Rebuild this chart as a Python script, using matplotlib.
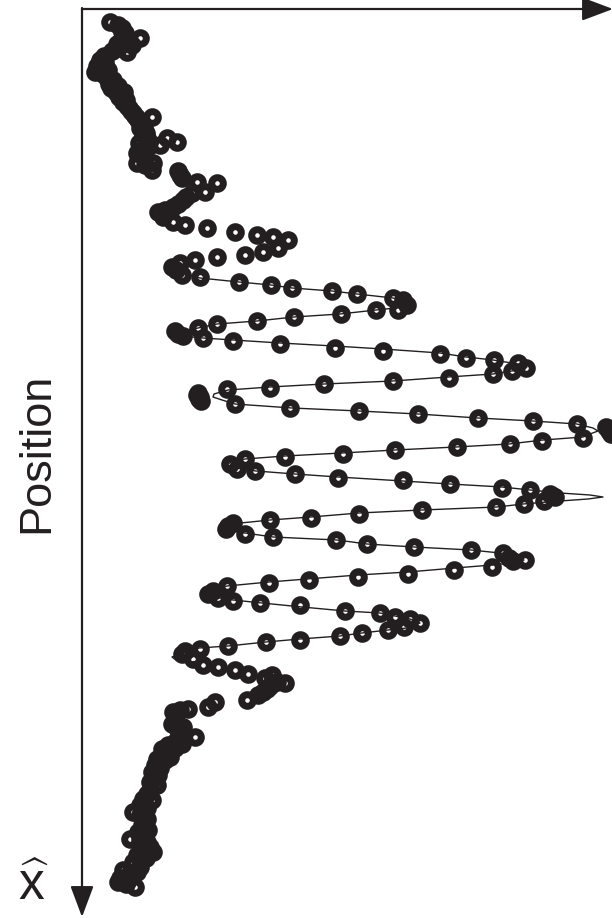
import matplotlib.pyplot as plt

plt.rcParams['font.family'] = ['Liberation Sans', 'DejaVu Sans']
plt.rcParams['mathtext.fontset'] = 'custom'
plt.rcParams['mathtext.sf'] = 'Liberation Sans'
plt.rcParams['mathtext.rm'] = 'Liberation Sans'

INK = '#231f20'

# === DATA (amplitude to the right, position downwards, arbitrary units) ===
upper_amp = [110, 118, 122, 125, 123, 122, 126, 120, 117, 128, 140, 132, 127, 118, 112, 104, 100,
             105, 97, 95, 100, 103, 108, 107, 109, 113, 111, 118, 116, 124, 121, 119, 123, 126, 127,
             129, 131, 133, 135, 138, 137, 141, 152, 140, 144, 143, 146, 147, 149, 139, 160, 167,
             177, 148, 142, 137, 143, 137, 145, 152, 153, 178, 180, 182, 197, 217, 205, 192, 186,
             183, 178, 173, 165, 158, 163, 173, 185, 207, 235, 257, 273, 288, 278, 263, 245, 217,
             195, 180, 172, 176, 182, 200]
upper_pos = [22, 25, 28, 33, 38, 32, 40, 42, 44, 42, 38, 45, 52, 48, 51, 56, 60,
             62, 66, 72, 68, 74, 70, 78, 84, 80, 88, 86, 92, 92, 94, 97, 102, 100, 106,
             108, 111, 113, 116, 120, 118, 124, 117, 128, 128, 135, 133, 138, 142, 143, 145, 138,
             142, 147, 150, 153, 156, 163, 165, 170, 163, 171, 175, 178, 182, 183, 192, 193, 197,
             200, 204, 207, 210, 212, 217, 222, 225, 228, 232, 235, 237, 240, 248, 252, 255, 257,
             260, 263, 267, 270, 275, 277]

mid_amp = [239, 271, 292, 332, 357, 393, 403, 407, 398,
           376, 341, 294, 257, 217, 198, 175, 178, 183,
           203, 233, 280, 335, 383, 440, 466, 494, 518, 526,
           512, 493, 449, 393, 324, 270, 227, 198, 200, 201, 199, 197,
           235, 290, 359, 418, 478, 533, 577, 606, 609, 611,
           583, 542, 510, 457, 395, 343, 285, 245, 230,
           237, 255, 295, 338, 403, 450, 502, 530, 550, 555, 553,
           544, 524, 496, 422, 359, 311, 270, 228, 226, 233,
           245, 273, 336, 367, 414, 471, 503, 509, 525, 513,
           492, 454, 408, 358, 309, 269, 227, 213, 208, 218,
           233, 260, 300, 345, 380, 395, 410, 420, 404,
           388, 362, 340, 300, 266, 228, 200, 185, 182, 193]
mid_pos = [282, 285, 288, 291, 294, 298, 300, 305, 310,
           310, 314, 317, 321, 324, 328, 331, 334, 336,
           338, 341, 344, 348, 351, 354, 358, 360, 363, 368,
           371, 374, 378, 381, 384, 388, 389, 393, 397, 401, 399, 395,
           404, 408, 411, 414, 418, 421, 424, 427, 431, 434,
           438, 441, 444, 447, 450, 454, 457, 459, 464,
           469, 471, 474, 478, 480, 484, 488, 490, 494, 497, 496,
           501, 504, 507, 510, 514, 518, 520, 526, 529, 523,
           534, 537, 540, 544, 547, 550, 553, 558, 560, 561,
           567, 570, 574, 577, 580, 583, 586, 591, 594, 598,
           601, 603, 605, 611, 613, 617, 619, 623, 627,
           630, 633, 636, 640, 642, 646, 649, 651, 654, 659]

lower_amp = [203, 218, 235, 248, 265, 272, 277, 285, 270, 267, 263, 258, 247, 215, 208, 188, 180,
             173, 175, 172, 178, 183, 180, 195, 176, 182, 175, 168, 162, 168, 170, 157, 165, 155,
             160, 152, 158, 155, 157, 150, 150, 147, 143, 152, 140, 147, 133, 145, 140, 143, 147,
             142, 138, 148, 130, 145, 140, 147, 150, 143, 153, 137, 146, 140, 133, 140, 123, 137,
             130, 120, 128, 118, 126, 135]
lower_pos = [665, 667, 670, 674, 678, 675, 682, 683, 686, 689, 692, 695, 700, 702, 707, 709, 710,
             712, 718, 724, 730, 727, 735, 737, 741, 744, 748, 745, 749, 753, 757, 759, 760, 765,
             768, 772, 775, 778, 785, 782, 790, 794, 799, 800, 805, 808, 812, 812, 815, 820, 819,
             825, 832, 830, 839, 836, 840, 842, 847, 848, 852, 855, 858, 860, 862, 867, 870, 872,
             873, 878, 880, 882, 884, 887]

fit_amp = [178, 200, 239, 271, 292, 332, 357, 393, 405, 411,
           405, 376, 340, 294, 257, 217, 198, 181, 174,
           181, 203, 233, 280, 334, 383, 440, 466, 493, 518, 527,
           518, 493, 448, 393, 324, 270, 228, 214, 213,
           222, 235, 292, 359, 418, 478, 533, 577, 593, 598,
           590, 583, 543, 509, 456, 395, 342, 285, 245, 231, 227,
           237, 256, 295, 338, 403, 450, 502, 530, 560, 590, 603,
           588, 560, 523, 497, 422, 359, 311, 270, 231, 225,
           232, 245, 273, 337, 367, 414, 471, 500, 515, 524,
           512, 492, 455, 408, 358, 307, 269, 227, 212, 210,
           220, 233, 262, 302, 345, 380, 395, 410, 420,
           412, 407, 388, 362, 340, 300, 266, 228, 199, 183, 172,
           176, 190, 200]
fit_pos = [271, 278, 282, 285, 288, 291, 294, 298, 301, 304,
           307, 310, 314, 317, 321, 324, 328, 331, 334,
           336, 338, 340, 343, 346, 349, 353, 357, 360, 364, 367,
           370, 374, 377, 381, 384, 387, 390, 394, 397,
           400, 404, 408, 411, 414, 418, 421, 424, 428, 431,
           434, 437, 440, 444, 447, 450, 453, 456, 459, 462, 465,
           468, 471, 474, 477, 481, 484, 487, 490, 493, 495, 497,
           499, 501, 504, 507, 510, 513, 517, 520, 524, 528,
           531, 533, 537, 540, 544, 547, 550, 553, 557, 560,
           563, 565, 568, 572, 575, 579, 582, 586, 590, 594,
           598, 600, 603, 607, 611, 613, 616, 619, 623,
           626, 628, 630, 633, 636, 639, 642, 646, 648, 653, 657,
           660, 662, 661]

fig = plt.figure(figsize=(6.12, 9.18), dpi=100)
ax = fig.add_axes([0, 0, 1, 1])
ax.set_xlim(0, 612)
ax.set_ylim(918, 0)
ax.axis('off')

# axes drawn as arrows (origin top-left)
arrow = dict(arrowstyle='-|>,head_length=1.2,head_width=0.45', color=INK, lw=1.6,
             mutation_scale=16, shrinkA=0, shrinkB=0)
ax.annotate('', xy=(613, 9), xytext=(82, 9), arrowprops=arrow, annotation_clip=False)
ax.annotate('', xy=(82, 917), xytext=(82, 8), arrowprops=arrow, annotation_clip=False)

ax.plot(fit_amp, fit_pos, color=INK, lw=1.0, zorder=2)

for xs, ys in [(upper_amp, upper_pos), (mid_amp, mid_pos), (lower_amp, lower_pos)]:
    ax.plot(xs, ys, ls='none', marker='o', ms=8.4, mew=5.0, mec=INK, mfc='none',
            zorder=3, clip_on=False)

ax.text(37, 453, 'Position', rotation=90, ha='center', va='center', fontsize=32.5, color=INK)
ax.text(34, 886, r'$\widehat{\mathsf{x}}$', ha='center', va='center', fontsize=37, color=INK)

fig.savefig('out.png', dpi=100)
